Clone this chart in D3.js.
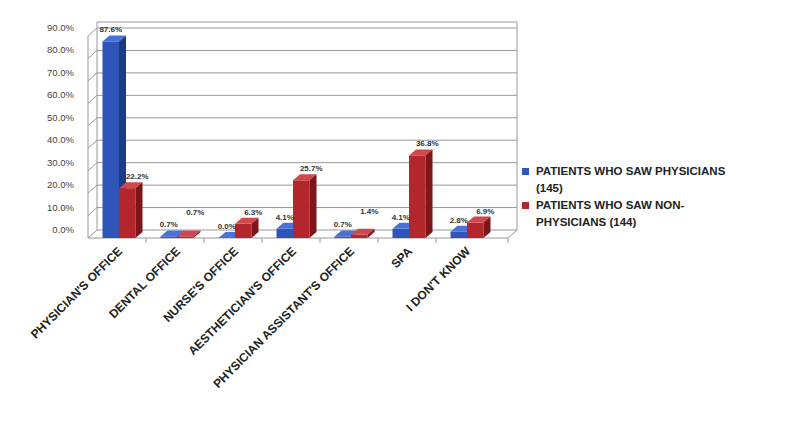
<!DOCTYPE html><html><head><meta charset="utf-8">
<script src="https://cdn.jsdelivr.net/npm/d3@7"></script>
<style>body{margin:0;background:#fff}</style></head><body><svg id="c" width="800" height="425"></svg>
<script>
const categories=["PHYSICIAN'S OFFICE","DENTAL OFFICE","NURSE'S OFFICE","AESTHETICIAN'S OFFICE","PHYSICIAN ASSISTANT'S OFFICE","SPA","I DON'T KNOW"];
const physicians=[87.6,0.7,0.0,4.1,0.7,4.1,2.8];
const nonPhysicians=[22.2,0.7,6.3,25.7,1.4,36.8,6.9];
const yTicks=[0,10,20,30,40,50,60,70,80,90];
const seriesNames=["PATIENTS WHO SAW PHYSICIANS (145)","PATIENTS WHO SAW NON-PHYSICIANS (144)"];
const svg=d3.select("#c");
const L=88,R=494,B=238,T=36,dx=9,dy=-8;
const x=d3.scaleBand().domain(categories).range([L,R]);
const y=d3.scaleLinear().domain([0,90]).range([B,T]);
const grid=svg.append("g");
grid.append("path").attr("d",`M${L+dx},${B+dy}V${T+dy-6}H${R+dx+14}V${B+dy}`).attr("fill","none").attr("stroke","#999");
yTicks.forEach(t=>{
 grid.append("line").attr("x1",L+dx).attr("x2",R+dx+14).attr("y1",y(t)+dy).attr("y2",y(t)+dy).attr("stroke","#999");
 grid.append("line").attr("x1",L).attr("x2",L+dx).attr("y1",y(t)).attr("y2",y(t)+dy).attr("stroke","#999");
 grid.append("text").attr("x",L-14).attr("y",y(t)+dy+3).attr("text-anchor","end").attr("font-family","Liberation Sans").attr("font-size",9.5).attr("fill","#444").text(t.toFixed(1)+"%");
});
grid.append("line").attr("x1",L).attr("x2",L).attr("y1",B).attr("y2",T).attr("stroke","#999");
grid.append("path").attr("d",`M${L},${B}H${R+14}L${R+dx+14},${B+dy}`).attr("fill","none").attr("stroke","#999");
categories.forEach((c,i)=>{if(i>0)grid.append("line").attr("x1",x(c)).attr("x2",x(c)).attr("y1",B).attr("y2",B+5).attr("stroke","#999");});
grid.append("line").attr("x1",R+14).attr("x2",R+14).attr("y1",B).attr("y2",B+5).attr("stroke","#999");
const bw=16.5;
const cols=[{f:"#2f55b8",t:"#4a72d6",s:"#1d3a85"},{f:"#b3262c",t:"#d0474c",s:"#7e1519"}];
const bars=svg.append("g"), labs=svg.append("g");
const ddx=7,ddy=-6;
[physicians,nonPhysicians].forEach((vals,k)=>{
 vals.forEach((v,i)=>{
  const x0=x(categories[i])+x.bandwidth()/2-bw+k*bw+2, y0=y(v);
  const c=cols[k];
  bars.append("rect").attr("x",x0).attr("y",y0).attr("width",bw).attr("height",B-y0).attr("fill",c.f);
  bars.append("path").attr("d",`M${x0},${y0}l${ddx},${ddy}h${bw}l${-ddx},${-ddy}z`).attr("fill",c.t);
  bars.append("path").attr("d",`M${x0+bw},${y0}l${ddx},${ddy}V${B+ddy}l${-ddx},${-ddy}z`).attr("fill",c.s);
  labs.append("text").attr("x",x0+bw/2+(k?10:0)).attr("y",y0+ddy-3-(k&&v<2?12:0)).attr("text-anchor","middle").attr("font-family","Liberation Sans").attr("font-weight","bold").attr("font-size",8).attr("fill","#333").text(v.toFixed(1)+"%");
 });
});
categories.forEach(c=>{
 const cx=x(c)+x.bandwidth()/2;
 svg.append("text").attr("transform",`translate(${cx+6},${B+14}) rotate(-45)`).attr("text-anchor","end").attr("font-family","Liberation Sans").attr("font-weight","bold").attr("font-size",12).attr("fill","#222").text(c);
});
const lg=svg.append("g").attr("font-family","Liberation Sans").attr("font-weight","bold").attr("font-size",11.5).attr("fill","#222");
const lines=[["PATIENTS WHO SAW PHYSICIANS","(145)"],["PATIENTS WHO SAW NON-","PHYSICIANS (144)"]];
lines.forEach((ls,k)=>{
 const yy=175+k*34;
 lg.append("rect").attr("x",522).attr("y",yy-7).attr("width",7).attr("height",7).attr("fill",cols[k].f);
 ls.forEach((t,j)=>lg.append("text").attr("x",536).attr("y",yy+j*17).text(t));
});
</script></body></html>
